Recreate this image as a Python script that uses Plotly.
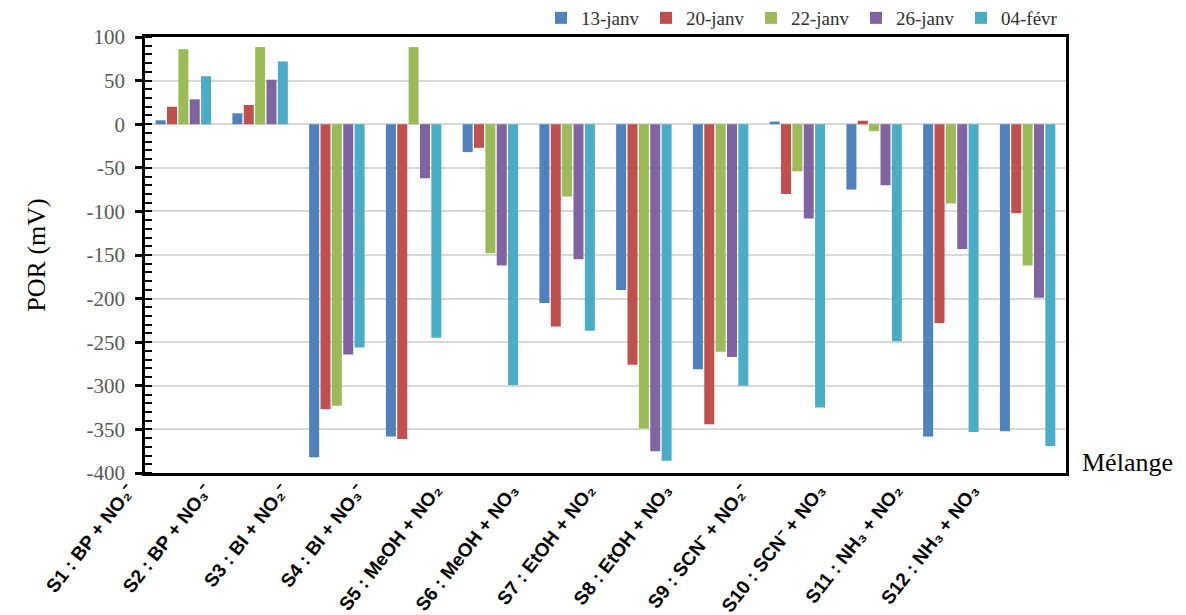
import plotly.graph_objects as go

categories = [
    "S1 : BP + NO₂⁻", "S2 : BP + NO₃⁻", "S3 : BI + NO₂⁻", "S4 : BI + NO₃⁻",
    "S5 : MeOH + NO₂", "S6 : MeOH + NO₃", "S7 : EtOH + NO₂", "S8 : EtOH + NO₃",
    "S9 : SCN⁻ + NO₂⁻", "S10 : SCN⁻ + NO₃", "S11 : NH₃ + NO₂", "S12 : NH₃ + NO₃",
]
series_names = ["13-janv", "20-janv", "22-janv", "26-janv", "04-févr"]

v_13_janv = [4.5, 12.5, -382, -358, -32, -205, -190, -281, 3, -75, -358, -352]
v_20_janv = [20, 22, -327, -361, -27, -232, -276, -344, -80, 4, -228, -102]
v_22_janv = [86, 88.5, -323, 88.5, -148, -83, -349, -261, -54, -8, -91, -162]
v_26_janv = [28.5, 51, -264, -62, -162, -155, -375, -267, -108, -70, -143, -199]
v_04_fevr = [55, 72, -256, -245, -299, -237, -386, -300, -325, -249, -353, -369]

y_ticks = [100, 50, 0, -50, -100, -150, -200, -250, -300, -350, -400]
y_tick_labels = ["100", "50", "0", "-50", "-100", "-150", "-200", "-250", "-300", "-350", "-400"]

values = [v_13_janv, v_20_janv, v_22_janv, v_26_janv, v_04_fevr]
colors = ["#4F81BD", "#C0504D", "#9BBB59", "#8064A2", "#4BACC6"]

fig = go.Figure()
for name, vals, col in zip(series_names, values, colors):
    fig.add_trace(go.Bar(x=categories, y=vals, name=name, marker=dict(color=col, line=dict(width=0))))

serif = "Liberation Serif, Times New Roman, serif"

# page body has an 8px margin, so the figure is sized/offset to compensate
fig.update_layout(
    width=1178, height=607,
    margin=dict(l=137, r=120, t=29, b=142, autoexpand=False),
    plot_bgcolor="white", paper_bgcolor="white",
    barmode="group", bargap=0.26, bargroupgap=0.12,
    showlegend=True,
    legend=dict(orientation="h", x=1.0, xanchor="right", y=1.0, yanchor="bottom",
                font=dict(family=serif, size=19, color="#303030"),
                bgcolor="rgba(0,0,0,0)", borderwidth=0, tracegroupgap=0,
                itemwidth=30, traceorder="normal", entrywidth=60),
    xaxis=dict(
        showline=True, linecolor="black", linewidth=2.5, mirror=True,
        showgrid=False, ticks="", tickangle=-52,
        tickfont=dict(family="Liberation Sans, Arial, sans-serif", size=19, color="black",
                      weight="bold"),
        ticklabelshift=-55, ticklabelstandoff=-4,
    ),
    yaxis=dict(
        range=[-400, 100], tickmode="array", tickvals=y_ticks, ticktext=y_tick_labels,
        showline=True, linecolor="black", linewidth=2.5, mirror=True,
        showgrid=True, gridcolor="#D9D9D9", gridwidth=2, zeroline=False,
        ticks="outside", ticklen=7, tickwidth=2.5, tickcolor="black",
        minor=dict(dtick=10, tick0=0, ticks="inside", ticklen=7, tickwidth=2, tickcolor="black", showgrid=False),
        tickfont=dict(family=serif, size=21, color="#595959"),
        ticklabelstandoff=6,
        title=dict(text="POR (mV)", font=dict(family=serif, size=26, color="black"), standoff=34),
    ),
    annotations=[dict(text="Mélange", xref="paper", yref="paper", x=1.0, y=0,
                      xanchor="left", yanchor="middle", xshift=14, yshift=11, showarrow=False,
                      font=dict(family=serif, size=26, color="black"))],
)

fig.write_html("out.html")
